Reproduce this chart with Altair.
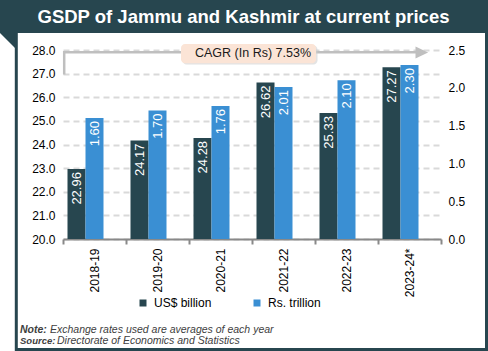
import altair as alt
import pandas as pd

# ---------------- data ----------------
categories = ["2018-19", "2019-20", "2020-21", "2021-22", "2022-23", "2023-24*"]
usd_billion = [22.96, 24.17, 24.28, 26.62, 25.33, 27.27]
rs_trillion = [1.60, 1.70, 1.76, 2.01, 2.10, 2.30]
series_names = ["US$ billion", "Rs. trillion"]
usd_ticks = [20, 21, 22, 23, 24, 25, 26, 27, 28]
rs_ticks = [0.0, 0.5, 1.0, 1.5, 2.0, 2.5]

title_text = "GSDP of Jammu and Kashmir at current prices"
cagr_text = "CAGR (In Rs) 7.53%"
note_label = "Note:"
note_text = "Exchange rates used are averages of each year"
source_label = "Source:"
source_text = "Directorate of Economics and Statistics"

# ---------------- styles ----------------
DARK = "#27464F"
BLUE = "#3A8FD3"
GRID = "#D9D9D9"
AXISC = "#898989"
FONT = "Liberation Sans"

rows = []
for c, u, r in zip(categories, usd_billion, rs_trillion):
    rows.append({"cat": c, "series": series_names[0], "value": u})
    rows.append({"cat": c, "series": series_names[1], "value": r})
df = pd.DataFrame(rows)

x_enc = alt.X(
    "cat:N",
    sort=categories,
    scale=alt.Scale(domain=categories, paddingInner=0, paddingOuter=0),
    axis=alt.Axis(
        title=None, labelAngle=270, labelFontSize=12, labelFont=FONT,
        labelColor="#000000", labelPadding=4, tickBand="extent", tickSize=5,
        tickColor=AXISC, tickWidth=2, domainColor=AXISC, domainWidth=2,
        grid=False,
    ),
)

color_enc = alt.Color(
    "series:N",
    scale=alt.Scale(domain=series_names, range=[DARK, BLUE]),
    legend=alt.Legend(
        title=None, orient="none", legendX=74, legendY=247,
        direction="horizontal", symbolType="square", symbolSize=49,
        symbolStrokeWidth=0, labelFontSize=12, labelFont=FONT,
        labelColor="#000000", labelOffset=5, columnPadding=39, padding=0,
    ),
)

base = alt.Chart(df).encode(x=x_enc)

usd_scale = alt.Scale(domain=[20, 28], zero=False, nice=False)
usd_axis = alt.Axis(
    title=None, orient="left", values=usd_ticks, format=".1f",
    grid=True, gridDash=[6, 4], gridColor=GRID, gridWidth=2,
    domain=False, ticks=False, labelPadding=8, labelFontSize=12,
    labelFont=FONT, labelColor="#000000",
)
rs_scale = alt.Scale(domain=[0, 2.5], nice=False)
rs_axis = alt.Axis(
    title=None, orient="right", values=rs_ticks, format=".1f",
    grid=False, domain=False, ticks=False, labelPadding=7,
    labelFontSize=12, labelFont=FONT, labelColor="#000000",
)

usd_data = base.transform_filter(alt.datum.series == series_names[0])
rs_data = base.transform_filter(alt.datum.series == series_names[1])

usd_bars = usd_data.mark_bar(width=18, xOffset=-18).encode(
    y=alt.Y("value:Q", scale=usd_scale, axis=usd_axis),
    y2=alt.datum(20),
    color=color_enc,
)
usd_text = usd_data.mark_text(
    angle=270, align="right", baseline="middle", dx=-3, xOffset=-18,
    color="white", fontSize=13, font=FONT,
).encode(
    y=alt.Y("value:Q", scale=usd_scale, axis=usd_axis),
    text=alt.Text("value:Q", format=".2f"),
)

rs_bars = rs_data.mark_bar(width=18).encode(
    y=alt.Y("value:Q", scale=rs_scale, axis=rs_axis),
    color=color_enc,
)
rs_text = rs_data.mark_text(
    angle=270, align="right", baseline="middle", dx=-3,
    color="white", fontSize=13, font=FONT,
).encode(
    y=alt.Y("value:Q", scale=rs_scale, axis=rs_axis),
    text=alt.Text("value:Q", format=".2f"),
)

left = alt.layer(usd_bars, usd_text)
right = alt.layer(rs_bars, rs_text)

# ---------------- decorations (pixel positions relative to plot origin) ----------------
one = pd.DataFrame({"k": [0]})
d = alt.Chart(one)

title_bar = d.mark_rect(color=DARK).encode(
    x=alt.value(-63), x2=alt.value(425), y=alt.value(-50), y2=alt.value(-17))
title_txt = d.mark_text(
    color="white", fontSize=18.5, fontWeight="bold", font=FONT,
    align="center", baseline="middle",
).encode(x=alt.value(180.5), y=alt.value(-33.5), text=alt.value(title_text))
corner = d.mark_point(
    shape="M-1,-1L1,-1L1,1Z", size=225, filled=True, color=DARK, opacity=1,
).encode(x=alt.value(-55.5), y=alt.value(-9.5))
border_left = d.mark_rule(color=DARK, strokeWidth=3).encode(
    x=alt.value(-46.7), y=alt.value(-17), y2=alt.value(301))
border_right = d.mark_rule(color=DARK, strokeWidth=3).encode(
    x=alt.value(423.5), y=alt.value(-17), y2=alt.value(301))
border_bottom = d.mark_rule(color=DARK, strokeWidth=3).encode(
    x=alt.value(-48), x2=alt.value(425), y=alt.value(299.6))

arrow_v = d.mark_rule(color="#BFBFBF", strokeWidth=2.5).encode(
    x=alt.value(1.2), y=alt.value(1), y2=alt.value(24.5))
arrow_h = d.mark_rule(color="#BFBFBF", strokeWidth=2.5).encode(
    x=alt.value(0), x2=alt.value(354), y=alt.value(2.2))
arrow_head = d.mark_point(
    shape="M-1,-1L1.1,0L-1,1Z", size=144, filled=True, color="#BFBFBF", opacity=1,
).encode(x=alt.value(358.5), y=alt.value(2.5))

box_shadow = d.mark_rect(color="#D0D0D0", cornerRadius=4, opacity=0.6).encode(
    x=alt.value(119.5), x2=alt.value(254.5), y=alt.value(-4.5), y2=alt.value(14.5))
box = d.mark_rect(color="#FBE4D6", cornerRadius=4).encode(
    x=alt.value(118), x2=alt.value(253), y=alt.value(-6), y2=alt.value(13.3))
box_txt = d.mark_text(
    color="#1A1A1A", fontSize=12.5, font=FONT, align="center", baseline="middle",
).encode(x=alt.value(190), y=alt.value(3), text=alt.value(cagr_text))

note_b = d.mark_text(
    color="#404040", fontSize=10.5, font=FONT, fontStyle="italic",
    fontWeight="bold", align="left", baseline="middle",
).encode(x=alt.value(-43), y=alt.value(280), text=alt.value(note_label))
note_t = d.mark_text(
    color="#404040", fontSize=10.5, font=FONT, fontStyle="italic",
    align="left", baseline="middle",
).encode(x=alt.value(-13), y=alt.value(280), text=alt.value(note_text))
src_b = d.mark_text(
    color="#404040", fontSize=9.5, font=FONT, fontStyle="italic",
    fontWeight="bold", align="left", baseline="middle",
).encode(x=alt.value(-43), y=alt.value(291), text=alt.value(source_label))
src_t = d.mark_text(
    color="#404040", fontSize=10.5, font=FONT, fontStyle="italic",
    align="left", baseline="middle",
).encode(x=alt.value(-6), y=alt.value(291), text=alt.value(source_text))

chart = alt.layer(
    left, right,
    title_bar, title_txt, corner, border_left, border_right, border_bottom,
    arrow_v, arrow_h, arrow_head, box_shadow, box, box_txt,
    note_b, note_t, src_b, src_t,
).resolve_scale(y="independent").properties(
    width=378, height=189,
    autosize=alt.AutoSizeParams(type="none"),
    padding={"left": 63, "top": 50, "right": 47, "bottom": 112},
    background="white",
).configure_view(stroke=None)

chart.save("out.html", embed_options={"renderer": "svg", "actions": False})
